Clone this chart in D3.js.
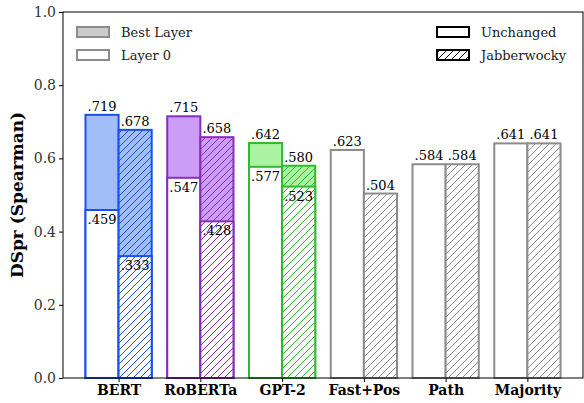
<!DOCTYPE html>
<html>
<head>
<meta charset="utf-8">
<script src="https://cdn.jsdelivr.net/npm/d3@7"></script>
<style>
  body { margin: 0; background: #fff; }
</style>
</head>
<body>
<script>
var categories = ["BERT", "RoBERTa", "GPT-2", "Fast+Pos", "Path", "Majority"];
// best layer (null where there is no layer split)
var bestUnchanged = [0.719, 0.715, 0.642, null, null, null];
var bestJabber    = [0.678, 0.658, 0.580, null, null, null];
// layer 0 / single value
var baseUnchanged = [0.459, 0.547, 0.577, 0.623, 0.584, 0.641];
var baseJabber    = [0.333, 0.428, 0.523, 0.504, 0.584, 0.641];
var labelsUnchangedBest = [".719", ".715", ".642", null, null, null];
var labelsJabberBest    = [".678", ".658", ".580", null, null, null];
var labelsUnchangedBase = [".459", ".547", ".577", ".623", ".584", ".641"];
var labelsJabberBase    = [".333", ".428", ".523", ".504", ".584", ".641"];
var yTicks = [0, 0.2, 0.4, 0.6, 0.8, 1.0];

var edgeColors = ["#1b50ee", "#8a2db6", "#2fba2f", "#8c8c8c", "#8c8c8c", "#8c8c8c"];
var fillColors = ["#a2bef8", "#cb9df7", "#abf3a2", "#ffffff", "#ffffff", "#ffffff"];

var FONT = "DejaVu Serif, serif";

var width = 584, height = 403;
var margin = {left: 63, right: 1, top: 12, bottom: 25};

var svg = d3.select("body").append("svg")
  .attr("width", width)
  .attr("height", height)
  .attr("font-family", FONT);

var x = d3.scalePoint()
  .domain(categories)
  .range([margin.left, width - margin.right])
  .padding(0.68);

var y = d3.scaleLinear()
  .domain([0, 1])
  .range([height - margin.bottom, margin.top]);

var barW = x.step() * 0.405;

// hatch patterns, one per colour
var defs = svg.append("defs");
function makeHatch(id, c){
  var p = defs.append("pattern")
    .attr("id", id)
    .attr("patternUnits", "userSpaceOnUse")
    .attr("width", 7)
    .attr("height", 7);
  p.append("path")
    .attr("d", "M0,7 L7,0 M-1,1 L1,-1 M6,8 L8,6")
    .attr("stroke", c)
    .attr("stroke-width", 1);
}
edgeColors.forEach(function(c, i){ makeHatch("hatch" + i, c); });
makeHatch("hatchK", "#000");

var bars = svg.append("g");

function drawBar(x0, v, fill, edge, hatchId){
  bars.append("rect")
    .attr("x", x0)
    .attr("y", y(v))
    .attr("width", barW)
    .attr("height", y(0) - y(v))
    .attr("fill", fill);
  if (hatchId) {
    bars.append("rect")
      .attr("x", x0)
      .attr("y", y(v))
      .attr("width", barW)
      .attr("height", y(0) - y(v))
      .attr("fill", "url(#" + hatchId + ")");
  }
  bars.append("rect")
    .attr("x", x0)
    .attr("y", y(v))
    .attr("width", barW)
    .attr("height", y(0) - y(v))
    .attr("fill", "none")
    .attr("stroke", edge)
    .attr("stroke-width", 2);
}

function label(cx, v, txt, inside){
  if (!txt) return;
  bars.append("text")
    .attr("x", cx)
    .attr("y", inside ? y(v) + 14 : y(v) - 4)
    .attr("text-anchor", "middle")
    .attr("font-size", 13)
    .attr("fill", "#000")
    .text(txt);
}

categories.forEach(function(c, i){
  var cx = x(c);
  var xu = cx - barW, xj = cx;
  var fill = fillColors[i], edge = edgeColors[i];
  if (bestUnchanged[i] != null) {
    drawBar(xu, bestUnchanged[i], fill, edge, null);
    drawBar(xu, baseUnchanged[i], "#fff", edge, null);
    drawBar(xj, bestJabber[i], fill, edge, "hatch" + i);
    drawBar(xj, baseJabber[i], "#fff", edge, "hatch" + i);
    label(xu + barW / 2, bestUnchanged[i], labelsUnchangedBest[i], false);
    label(xj + barW / 2, bestJabber[i], labelsJabberBest[i], false);
    label(xu + barW / 2, baseUnchanged[i], labelsUnchangedBase[i], true);
    label(xj + barW / 2, baseJabber[i], labelsJabberBase[i], true);
  } else {
    drawBar(xu, baseUnchanged[i], "#fff", edge, null);
    drawBar(xj, baseJabber[i], "#fff", edge, "hatch" + i);
    label(xu + barW / 2, baseUnchanged[i], labelsUnchangedBase[i], false);
    label(xj + barW / 2, baseJabber[i], labelsJabberBase[i], false);
  }
});

// frame
svg.append("rect")
  .attr("x", margin.left)
  .attr("y", margin.top)
  .attr("width", width - margin.right - margin.left)
  .attr("height", y(0) - margin.top)
  .attr("fill", "none")
  .attr("stroke", "#000")
  .attr("stroke-width", 1);

var yAxis = svg.append("g")
  .attr("transform", "translate(" + margin.left + ",0)")
  .call(d3.axisLeft(y).tickValues(yTicks).tickFormat(d3.format(".1f")).tickSizeOuter(0).tickSize(4).tickPadding(3));
yAxis.attr("font-family", FONT);
yAxis.select(".domain").remove();
yAxis.selectAll("text").attr("font-size", 14).attr("fill", "#333");

var xAxis = svg.append("g")
  .attr("transform", "translate(0," + y(0) + ")")
  .call(d3.axisBottom(x).tickSizeOuter(0).tickSize(4).tickPadding(3));
xAxis.attr("font-family", FONT);
xAxis.select(".domain").remove();
xAxis.selectAll("text").attr("font-size", 14).attr("font-weight", "bold").attr("fill", "#000");

svg.append("text")
  .attr("transform", "translate(23," + ((margin.top + y(0)) / 2) + ") rotate(-90)")
  .attr("text-anchor", "middle")
  .attr("font-size", 17)
  .attr("font-weight", "bold")
  .text("DSpr (Spearman)");

// legends
var legL = [{name: "Best Layer", fill: "#cccccc", edge: "#8c8c8c", hatch: false},
            {name: "Layer 0", fill: "#ffffff", edge: "#8c8c8c", hatch: false}];
var legR = [{name: "Unchanged", fill: "#ffffff", edge: "#000", hatch: false},
            {name: "Jabberwocky", fill: "#ffffff", edge: "#000", hatch: true}];

function legend(items, lx, ly){
  items.forEach(function(d, i){
    var yy = ly + i * 23;
    svg.append("rect").attr("x", lx).attr("y", yy).attr("width", 32).attr("height", 10)
      .attr("fill", d.fill);
    if (d.hatch) {
      svg.append("rect").attr("x", lx).attr("y", yy).attr("width", 32).attr("height", 10)
        .attr("fill", "url(#hatchK)");
    }
    svg.append("rect").attr("x", lx).attr("y", yy).attr("width", 32).attr("height", 10)
      .attr("fill", "none").attr("stroke", d.edge).attr("stroke-width", 2);
    svg.append("text").attr("x", lx + 44).attr("y", yy + 10)
      .attr("font-size", 13).attr("fill", "#222").text(d.name);
  });
}
legend(legL, 77, 27);
legend(legR, 437, 27);
</script>
</body>
</html>
